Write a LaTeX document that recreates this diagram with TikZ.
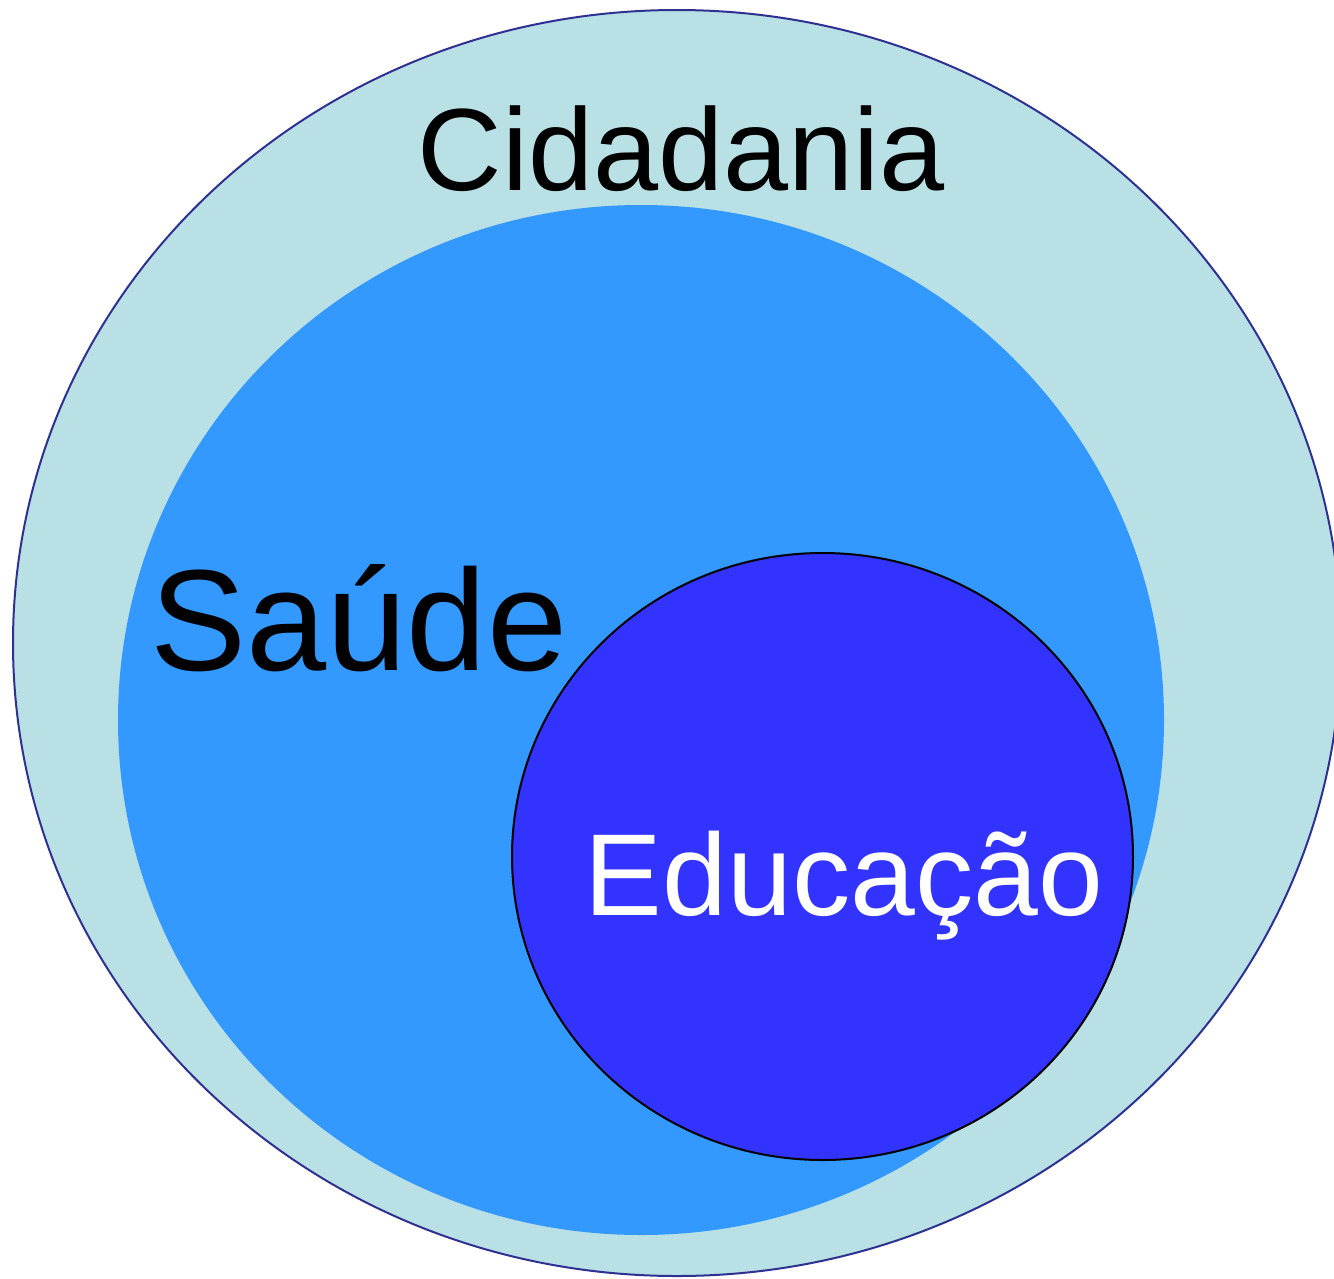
\documentclass[tikz,border=0pt]{standalone}
\usepackage{fontspec}
\setmainfont{Liberation Sans}
\usetikzlibrary{shapes.geometric}
\definecolor{outerfill}{HTML}{B9E0E4}
\definecolor{outerline}{HTML}{2E3192}
\definecolor{midfill}{HTML}{3399FF}
\definecolor{innerfill}{HTML}{3333FF}
\tikzset{
  blob/.style={ellipse, inner sep=0pt, outer sep=0pt},
  label/.style={inner sep=0pt, anchor=base}
}
\begin{document}
\begin{tikzpicture}[x=1pt,y=-1pt]
\useasboundingbox (0,0) rectangle (1334,1278);
\clip (0,0) rectangle (1334,1278);
\node[blob, fill=outerfill, draw=outerline, line width=2pt,
      minimum width=1328pt, minimum height=1266pt] (cid) at (677,643) {};
\node[blob, fill=midfill, minimum width=1046pt, minimum height=1030pt] (sau) at (641,720) {};
\node[blob, fill=innerfill, draw=black, line width=2pt,
      minimum width=621pt, minimum height=607pt] (edu) at (822.5,856.5) {};
\node[label] (tcid) at (681,190) {\fontsize{117pt}{120pt}\selectfont Cidadania};
\node[label] (tsau) at (359,670) {\fontsize{144pt}{146pt}\selectfont Saúde};
\node[label, text=white] (tedu) at (844,915) {\fontsize{116.5pt}{120pt}\selectfont Educação};
\end{tikzpicture}
\end{document}
